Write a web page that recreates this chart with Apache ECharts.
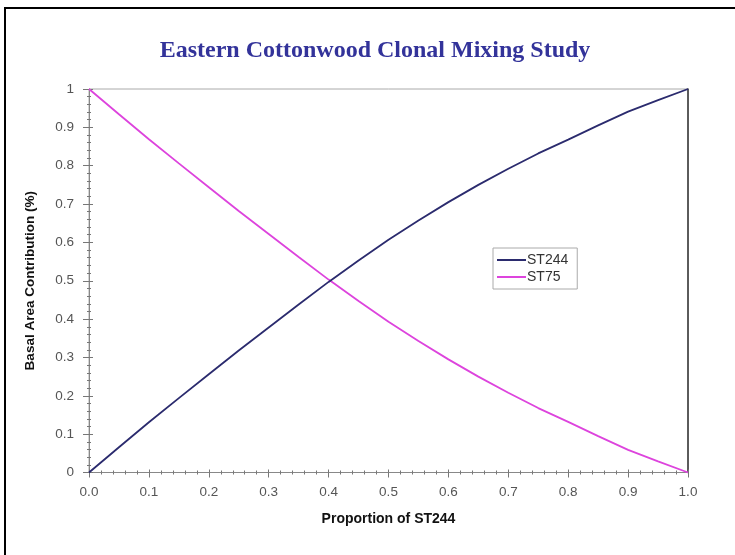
<!DOCTYPE html>
<html>
<head>
<meta charset="utf-8">
<script src="https://cdn.jsdelivr.net/npm/echarts@6/dist/echarts.min.js"></script>
<style>html,body{margin:0;padding:0;background:#fff;}#c{width:735px;height:555px;}</style>
</head>
<body>
<div id="c"></div>
<script>
const proportion = [0, 0.05, 0.1, 0.15, 0.2, 0.25, 0.3, 0.35, 0.4, 0.45, 0.5, 0.55, 0.6, 0.65, 0.7, 0.75, 0.8, 0.85, 0.9, 0.95, 1.0];
const st244 = [0, 0.066, 0.131, 0.194, 0.256, 0.318, 0.378, 0.438, 0.497, 0.553, 0.607, 0.657, 0.705, 0.750, 0.792, 0.832, 0.868, 0.905, 0.941, 0.971, 1.0];
const st75 = [1, 0.934, 0.869, 0.806, 0.744, 0.682, 0.622, 0.562, 0.503, 0.447, 0.393, 0.343, 0.295, 0.250, 0.208, 0.168, 0.132, 0.095, 0.059, 0.029, 0];
const titleText = 'Eastern Cottonwood Clonal Mixing Study';
const xName = 'Proportion of ST244';
const yName = 'Basal Area Contribution (%)';

const chart = echarts.init(document.getElementById('c'), null, {renderer: 'canvas'});
const pair = (xs, ys) => xs.map((x, i) => [x, ys[i]]);
const sans = 'Liberation Sans, Arial, sans-serif';
const labelStyle = {color: '#555', fontFamily: sans, fontSize: 13.5};
const baseX = {type: 'value', min: 0, max: 1, interval: 0.1, gridIndex: 0, splitLine: {show: false}};
const baseY = {type: 'value', min: 0, max: 1, interval: 0.1, gridIndex: 0, splitLine: {show: false}};
chart.setOption({
  animation: false,
  backgroundColor: '#fff',
  title: {
    text: titleText, left: 370, top: 34, textAlign: 'center',
    textStyle: {fontFamily: 'Liberation Serif, Times New Roman, serif', fontWeight: 'bold', fontSize: 24, color: '#33339a'}
  },
  graphic: [{
    type: 'rect', shape: {x: 5, y: 8, width: 760, height: 580},
    style: {fill: 'none', stroke: '#000', lineWidth: 2}, silent: true, z: 100
  }],
  grid: {left: 89, right: 47, top: 89, bottom: 82.5, show: true, borderColor: '#aaa', borderWidth: 1},
  legend: {
    orient: 'vertical', left: 493, top: 248, itemWidth: 29, itemHeight: 2, itemGap: 3,
    padding: [5, 9, 5, 4], borderColor: '#aaa', borderWidth: 1, borderRadius: 0, backgroundColor: '#fff',
    icon: 'rect',
    textStyle: {color: '#333', fontFamily: sans, fontSize: 14, padding: [0, 0, 0, -4]},
    data: ['ST244', 'ST75']
  },
  xAxis: [
    Object.assign({}, baseX, {
      name: xName, nameLocation: 'middle', nameGap: 40,
      nameTextStyle: {fontFamily: sans, fontWeight: 'bold', fontSize: 14, color: '#111'},
      axisLine: {show: true, onZero: false, lineStyle: {color: '#888', width: 1}},
      axisTick: {show: true, inside: false, length: 5, lineStyle: {color: '#777'}},
      minorTick: {show: true, splitNumber: 5, length: 2, lineStyle: {color: '#777'}},
      axisLabel: Object.assign({}, labelStyle, {margin: 13, formatter: v => v.toFixed(1)})
    }),
    Object.assign({}, baseX, {
      position: 'bottom',
      axisLine: {show: false},
      axisTick: {show: true, inside: true, length: 3, lineStyle: {color: '#777'}},
      minorTick: {show: true, splitNumber: 5, length: 2, lineStyle: {color: '#777'}},
      axisLabel: {show: false}
    })
  ],
  yAxis: [
    Object.assign({}, baseY, {
      name: yName, nameLocation: 'middle', nameGap: 52, nameRotate: 90,
      nameTextStyle: {fontFamily: sans, fontWeight: 'bold', fontSize: 13.5, color: '#111'},
      axisLine: {show: true, onZero: false, lineStyle: {color: '#888', width: 1}},
      axisTick: {show: true, inside: false, length: 6, lineStyle: {color: '#777'}},
      minorTick: {show: true, splitNumber: 5, length: 2, lineStyle: {color: '#777'}},
      axisLabel: Object.assign({}, labelStyle, {margin: 15, formatter: v => String(Math.round(v * 10) / 10)})
    }),
    Object.assign({}, baseY, {
      position: 'left',
      axisLine: {show: false},
      axisTick: {show: true, inside: true, length: 4, lineStyle: {color: '#777'}},
      minorTick: {show: true, splitNumber: 5, length: 2, lineStyle: {color: '#777'}},
      axisLabel: {show: false}
    }),
    Object.assign({}, baseY, {
      position: 'right',
      axisLine: {show: true, onZero: false, lineStyle: {color: '#333', width: 1.5}},
      axisTick: {show: false}, axisLabel: {show: false}
    })
  ],
  series: [
    {name: 'ST244', type: 'line', data: pair(proportion, st244), showSymbol: false, symbol: 'none',
     lineStyle: {color: '#2b2b6e', width: 1.8}, itemStyle: {color: '#2b2b6e'}, z: 3},
    {name: 'ST75', type: 'line', data: pair(proportion, st75), showSymbol: false, symbol: 'none',
     lineStyle: {color: '#dd44dd', width: 1.8}, itemStyle: {color: '#dd44dd'}, z: 2}
  ]
});
</script>
</body>
</html>
